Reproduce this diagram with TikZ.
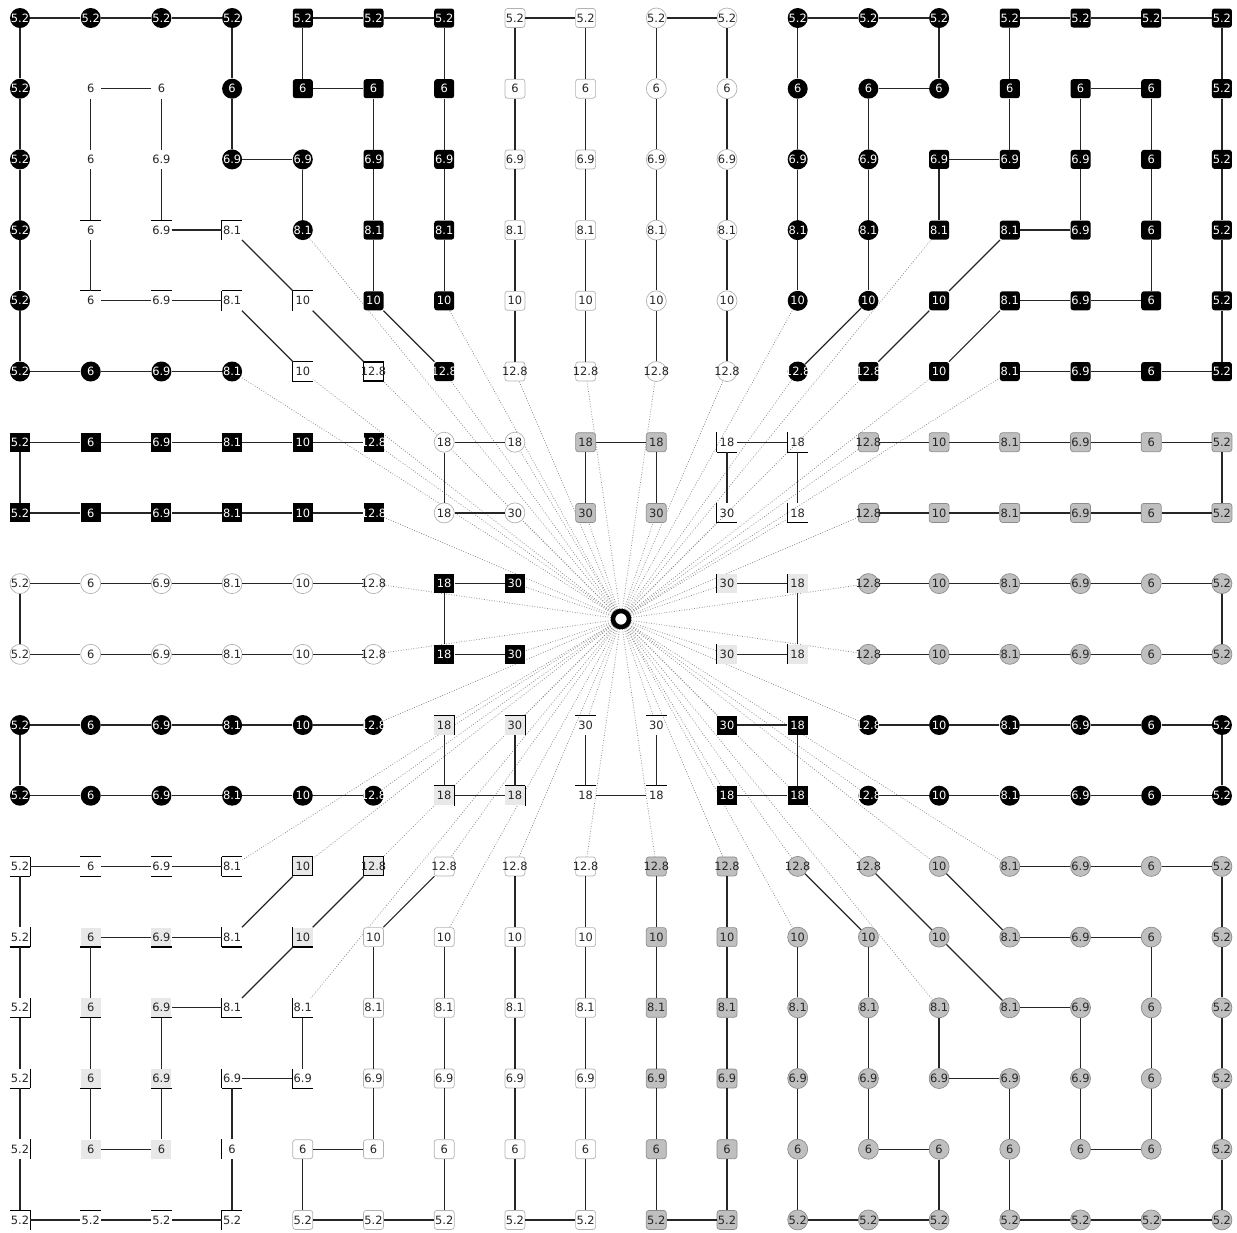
\documentclass[tikz,border=0pt]{standalone}
\usepackage{fontspec}
\setmainfont{DejaVu Sans}
\usetikzlibrary{backgrounds}

\def\holesty{none}

\tikzset{
  cell/.style={inner sep=0pt, minimum width=0.4cm, minimum height=0.38cm,
    font=\fontsize{6.5}{7}\selectfont, text=black!85},
  side/.style 2 args={append after command={(\tikzlastnode.#1) edge[sideline] (\tikzlastnode.#2)}},
  sideline/.style={draw=black, line width=0.6pt},
  st/.style={side={north west}{north east}},
  sb/.style={side={south west}{south east}},
  sl/.style={side={north west}{south west}},
  sr/.style={side={north east}{south east}},
  % filled nodes
  bc/.style={cell, circle, fill=black, text=white},
  bs/.style={cell, rounded corners=1.5pt, fill=black, text=white},
  bq/.style={cell, fill=black, text=white},
  wc/.style={cell, circle, draw=black!30, fill=white},
  ws/.style={cell, rounded corners=1.5pt, draw=black!30, fill=white},
  gc/.style={cell, circle, draw=black!45, fill=black!25},
  gs/.style={cell, rounded corners=1.5pt, draw=black!45, fill=black!25},
  wq/.style={cell, draw=black, line width=0.6pt, fill=white},
  lq/.style={cell, fill=black!9},
  qbox/.style={lq, draw=black, line width=0.6pt},
  ql/.style={lq, sl},
  qb/.style={lq, sb},
  qtr/.style={lq, st, sr},
  qlb/.style={lq, sl, sb},
  % plain nodes with some sides
  pn/.style={cell},
  pt/.style={cell, st},
  pl/.style={cell, sl},
  pr/.style={cell, sr},
  ptl/.style={cell, st, sl},
  ptr/.style={cell, st, sr},
  plb/.style={cell, sl, sb},
  prb/.style={cell, sr, sb},
  ptb/.style={cell, st, sb},
  pltb/.style={cell, sl, st, sb},
  ptrb/.style={cell, st, sr, sb},
  link/.style={draw=black!85, line width=0.7pt},
  ray/.style={draw=black!45, densely dotted, line width=0.45pt},
  hubnode/.style={circle, draw=black, line width=2.6pt, fill=white, minimum size=0.32cm, inner sep=0pt},
}

\begin{document}
\begin{tikzpicture}
  \useasboundingbox (0,0) rectangle (24.74,-24.64);

  \foreach \rowlist [count=\r from 0] in {{5.2/bc,5.2/bc,5.2/bc,5.2/bc,5.2/bs,5.2/bs,5.2/bs,5.2/ws,5.2/ws,5.2/wc,5.2/wc,5.2/bc,5.2/bc,5.2/bc,5.2/bs,5.2/bs,5.2/bs,5.2/bs},
    {5.2/bc,6/pn,6/pn,6/bc,6/bs,6/bs,6/bs,6/ws,6/ws,6/wc,6/wc,6/bc,6/bc,6/bc,6/bs,6/bs,6/bs,5.2/bs},
    {5.2/bc,6/pn,6.9/pn,6.9/bc,6.9/bc,6.9/bs,6.9/bs,6.9/ws,6.9/ws,6.9/wc,6.9/wc,6.9/bc,6.9/bc,6.9/bs,6.9/bs,6.9/bs,6/bs,5.2/bs},
    {5.2/bc,6/pt,6.9/pt,8.1/ptl,8.1/bc,8.1/bs,8.1/bs,8.1/ws,8.1/ws,8.1/wc,8.1/wc,8.1/bc,8.1/bc,8.1/bs,8.1/bs,6.9/bs,6/bs,5.2/bs},
    {5.2/bc,6/pt,6.9/pt,8.1/ptl,10/ptl,10/bs,10/bs,10/ws,10/ws,10/wc,10/wc,10/bc,10/bc,10/bs,8.1/bs,6.9/bs,6/bs,5.2/bs},
    {5.2/bc,6/bc,6.9/bc,8.1/bc,10/pltb,12.8/wq,12.8/bs,12.8/ws,12.8/ws,12.8/wc,12.8/wc,12.8/bc,12.8/bs,10/bs,8.1/bs,6.9/bs,6/bs,5.2/bs},
    {5.2/bq,6/bq,6.9/bq,8.1/bq,10/bq,12.8/bq,18/wc,18/wc,18/gs,18/gs,18/plb,18/plb,12.8/gs,10/gs,8.1/gs,6.9/gs,6/gs,5.2/gs},
    {5.2/bq,6/bq,6.9/bq,8.1/bq,10/bq,12.8/bq,18/wc,30/wc,30/gs,30/gs,30/plb,18/plb,12.8/gs,10/gs,8.1/gs,6.9/gs,6/gs,5.2/gs},
    {5.2/wc,6/wc,6.9/wc,8.1/wc,10/wc,12.8/wc,18/bq,30/bq,-/none,-/none,30/ql,18/ql,12.8/gc,10/gc,8.1/gc,6.9/gc,6/gc,5.2/gc},
    {5.2/wc,6/wc,6.9/wc,8.1/wc,10/wc,12.8/wc,18/bq,30/bq,-/none,-/none,30/ql,18/ql,12.8/gc,10/gc,8.1/gc,6.9/gc,6/gc,5.2/gc},
    {5.2/bc,6/bc,6.9/bc,8.1/bc,10/bc,12.8/bc,18/qtr,30/qtr,30/pt,30/pt,30/bq,18/bq,12.8/bc,10/bc,8.1/bc,6.9/bc,6/bc,5.2/bc},
    {5.2/bc,6/bc,6.9/bc,8.1/bc,10/bc,12.8/bc,18/qtr,18/qtr,18/pt,18/pt,18/bq,18/bq,12.8/bc,10/bc,8.1/bc,6.9/bc,6/bc,5.2/bc},
    {5.2/ptrb,6/ptb,6.9/ptb,8.1/pltb,10/qbox,12.8/qbox,12.8/ws,12.8/ws,12.8/ws,12.8/gs,12.8/gs,12.8/gc,12.8/gc,10/gc,8.1/gc,6.9/gc,6/gc,5.2/gc},
    {5.2/prb,6/qb,6.9/qb,8.1/plb,10/qlb,10/ws,10/ws,10/ws,10/ws,10/gs,10/gs,10/gc,10/gc,10/gc,8.1/gc,6.9/gc,6/gc,5.2/gc},
    {5.2/prb,6/qb,6.9/qb,8.1/plb,8.1/plb,8.1/ws,8.1/ws,8.1/ws,8.1/ws,8.1/gs,8.1/gs,8.1/gc,8.1/gc,8.1/gc,8.1/gc,6.9/gc,6/gc,5.2/gc},
    {5.2/prb,6/qb,6.9/qb,6.9/plb,6.9/plb,6.9/ws,6.9/ws,6.9/ws,6.9/ws,6.9/gs,6.9/gs,6.9/gc,6.9/gc,6.9/gc,6.9/gc,6.9/gc,6/gc,5.2/gc},
    {5.2/pr,6/lq,6/lq,6/pl,6/ws,6/ws,6/ws,6/ws,6/ws,6/gs,6/gs,6/gc,6/gc,6/gc,6/gc,6/gc,6/gc,5.2/gc},
    {5.2/ptr,5.2/pt,5.2/pt,5.2/ptl,5.2/ws,5.2/ws,5.2/ws,5.2/ws,5.2/ws,5.2/gs,5.2/gs,5.2/gc,5.2/gc,5.2/gc,5.2/gc,5.2/gc,5.2/gc,5.2/gc}}{
    \foreach \lab/\sty [count=\c from 0] in \rowlist {
      \ifx\sty\holesty\else
        \node[\sty] (n\r-\c) at ({0.4+1.414*\c},{-0.36-1.414*\r}) {\makebox[0pt]{\lab}};
      \fi
    }
  }

  \node[hubnode] (hub) at (12.42,-12.38) {};

  % tree links
  \foreach \a/\b in {0-0/0-1, 0-1/0-2, 0-2/0-3, 0-0/1-0, 1-0/2-0, 2-0/3-0, 3-0/4-0, 4-0/5-0,
    5-0/5-1, 5-1/5-2, 5-2/5-3, 0-3/1-3, 1-3/2-3, 2-3/2-4, 2-4/3-4,
    0-4/0-5, 0-5/0-6, 0-4/1-4, 1-4/1-5, 1-5/2-5, 2-5/3-5, 3-5/4-5, 4-5/5-6,
    0-6/1-6, 1-6/2-6, 2-6/3-6, 3-6/4-6,
    1-1/1-2, 1-1/2-1, 2-1/3-1, 3-1/4-1, 1-2/2-2, 2-2/3-2, 3-2/3-3,
    4-1/4-2, 4-2/4-3, 3-3/4-4, 4-3/5-4, 4-4/5-5,
    0-7/0-8, 0-7/1-7, 1-7/2-7, 2-7/3-7, 3-7/4-7, 4-7/5-7,
    0-8/1-8, 1-8/2-8, 2-8/3-8, 3-8/4-8, 4-8/5-8,
    0-9/0-10, 0-9/1-9, 1-9/2-9, 2-9/3-9, 3-9/4-9, 4-9/5-9,
    0-10/1-10, 1-10/2-10, 2-10/3-10, 3-10/4-10, 4-10/5-10,
    0-11/0-12, 0-12/0-13, 0-11/1-11, 1-11/2-11, 2-11/3-11, 3-11/4-11,
    0-13/1-13, 1-13/1-12, 1-12/2-12, 2-12/3-12, 3-12/4-12, 4-12/5-11,
    0-14/0-15, 0-15/0-16, 0-16/0-17, 0-14/1-14, 1-14/2-14, 2-14/2-13, 2-13/3-13,
    0-17/1-17, 1-17/2-17, 2-17/3-17, 3-17/4-17, 4-17/5-17,
    5-17/5-16, 5-16/5-15, 5-15/5-14,
    1-15/1-16, 1-15/2-15, 2-15/3-15, 3-15/3-14, 3-14/4-13, 4-13/5-12,
    1-16/2-16, 2-16/3-16, 3-16/4-16, 4-16/4-15, 4-15/4-14, 4-14/5-13,
    6-0/6-1, 6-1/6-2, 6-2/6-3, 6-3/6-4, 6-4/6-5, 6-0/7-0,
    7-0/7-1, 7-1/7-2, 7-2/7-3, 7-3/7-4, 7-4/7-5,
    6-6/6-7, 6-6/7-6, 7-6/7-7, 6-8/6-9, 6-8/7-8, 6-9/7-9,
    6-10/6-11, 6-10/7-10, 6-11/7-11,
    6-12/6-13, 6-13/6-14, 6-14/6-15, 6-15/6-16, 6-16/6-17, 6-17/7-17,
    7-12/7-13, 7-13/7-14, 7-14/7-15, 7-15/7-16, 7-16/7-17,
    8-0/8-1, 8-1/8-2, 8-2/8-3, 8-3/8-4, 8-4/8-5, 8-0/9-0,
    9-0/9-1, 9-1/9-2, 9-2/9-3, 9-3/9-4, 9-4/9-5,
    8-6/8-7, 8-6/9-6, 9-6/9-7, 8-10/8-11, 8-11/9-11, 9-10/9-11,
    8-12/8-13, 8-13/8-14, 8-14/8-15, 8-15/8-16, 8-16/8-17, 8-17/9-17,
    9-12/9-13, 9-13/9-14, 9-14/9-15, 9-15/9-16, 9-16/9-17,
    10-0/10-1, 10-1/10-2, 10-2/10-3, 10-3/10-4, 10-4/10-5, 10-0/11-0,
    11-0/11-1, 11-1/11-2, 11-2/11-3, 11-3/11-4, 11-4/11-5,
    10-6/11-6, 10-7/11-7, 11-6/11-7, 10-8/11-8, 10-9/11-9, 11-8/11-9,
    10-10/10-11, 10-11/11-11, 11-10/11-11,
    10-12/10-13, 10-13/10-14, 10-14/10-15, 10-15/10-16, 10-16/10-17, 10-17/11-17,
    11-12/11-13, 11-13/11-14, 11-14/11-15, 11-15/11-16, 11-16/11-17,
    12-0/12-1, 12-1/12-2, 12-2/12-3, 12-0/13-0, 13-0/14-0, 14-0/15-0, 15-0/16-0, 16-0/17-0,
    17-0/17-1, 17-1/17-2, 17-2/17-3, 17-3/16-3, 16-3/15-3, 15-3/15-4, 15-4/14-4,
    12-4/13-3, 13-3/13-2, 13-2/13-1, 13-1/14-1, 14-1/15-1, 15-1/16-1, 16-1/16-2,
    16-2/15-2, 15-2/14-2, 14-2/14-3, 14-3/13-4, 13-4/12-5,
    12-6/13-5, 13-5/14-5, 14-5/15-5, 15-5/16-5, 16-5/16-4, 16-4/17-4, 17-4/17-5, 17-5/17-6,
    13-6/14-6, 14-6/15-6, 15-6/16-6, 16-6/17-6,
    12-7/13-7, 13-7/14-7, 14-7/15-7, 15-7/16-7, 16-7/17-7, 17-7/17-8,
    12-8/13-8, 13-8/14-8, 14-8/15-8, 15-8/16-8, 16-8/17-8,
    12-9/13-9, 13-9/14-9, 14-9/15-9, 15-9/16-9, 16-9/17-9, 17-9/17-10,
    12-10/13-10, 13-10/14-10, 14-10/15-10, 15-10/16-10, 16-10/17-10,
    12-11/13-12, 13-12/14-12, 14-12/15-12, 15-12/16-12, 16-12/16-13, 16-13/17-13,
    17-13/17-12, 17-12/17-11, 17-11/16-11, 16-11/15-11, 15-11/14-11, 14-11/13-11,
    12-12/13-13, 13-13/14-14, 14-14/14-15, 14-15/15-15, 15-15/16-15, 16-15/16-16,
    16-16/15-16, 15-16/14-16, 14-16/13-16, 13-16/13-15, 13-15/13-14, 13-14/12-13,
    14-13/15-13, 15-13/15-14, 15-14/16-14, 16-14/17-14, 17-14/17-15, 17-15/17-16, 17-16/17-17,
    17-17/16-17, 16-17/15-17, 15-17/14-17, 14-17/13-17, 13-17/12-17,
    12-17/12-16, 12-16/12-15, 12-15/12-14}
    \draw[link] (n\a) -- (n\b);

  % rays from the hub
  \begin{pgfonlayer}{background}
    \foreach \t in {3-4, 4-6, 5-3, 5-4, 5-5, 5-6, 5-7, 5-8, 5-9, 5-10, 4-11, 5-11, 5-12, 3-13, 5-13, 5-14,
      6-5, 7-5, 6-7, 7-7, 7-8, 7-9, 7-10, 7-11, 6-12, 7-12,
      8-5, 9-5, 8-7, 9-7, 8-10, 9-10, 8-12, 9-12,
      10-5, 11-5, 10-6, 10-7, 10-8, 10-9, 10-10, 11-10, 10-12, 11-12,
      12-3, 12-4, 12-5, 12-6, 12-7, 12-8, 13-6, 14-4,
      12-9, 12-10, 12-11, 12-12, 12-13, 12-14, 13-11, 14-13}
      \draw[ray] (hub.center) -- (n\t);
  \end{pgfonlayer}
\end{tikzpicture}
\end{document}
